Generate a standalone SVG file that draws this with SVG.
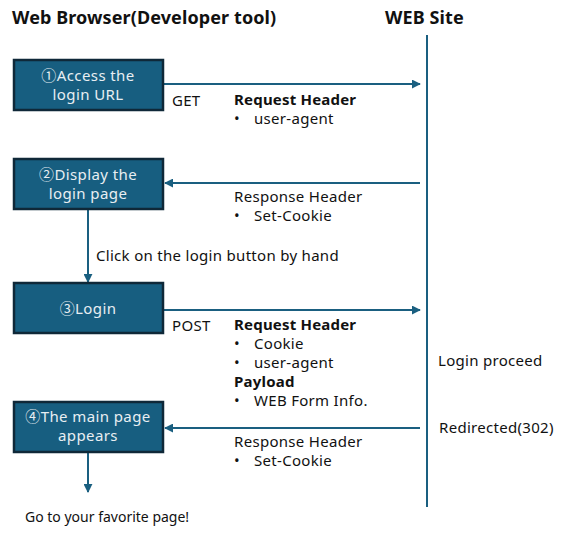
<svg xmlns="http://www.w3.org/2000/svg" width="568" height="534" viewBox="0 0 568 534">
<style>
text{font-family:"Noto Sans","Noto Sans CJK JP",sans-serif;font-size:15px;fill:#111;letter-spacing:0.3px}
.t{font-weight:bold;font-size:18px;letter-spacing:0.1px}
.b{font-weight:bold;letter-spacing:0.2px}
.w{fill:#e8eef2;text-anchor:middle;letter-spacing:0.4px}
.s{font-size:14px;letter-spacing:0}
.box{fill:#175e80;stroke:#0f2838;stroke-width:2.5}
.ln{stroke:#1a5f80;stroke-width:2;fill:none}
</style>
<defs>
<marker id="ah" viewBox="0 0 10 10" refX="9" refY="5" markerWidth="4.5" markerHeight="4.5" orient="auto" markerUnits="strokeWidth">
<path d="M0,0 L10,5 L0,10 z" fill="#1a5f80"/>
</marker>
</defs>
<text class="t" x="12" y="24">Web Browser(Developer tool)</text>
<text class="t" x="385" y="24">WEB Site</text>
<g id="connectors">
<line class="ln" x1="427" y1="35" x2="427" y2="507"/>
<line class="ln" x1="163" y1="84" x2="420" y2="84" marker-end="url(#ah)"/>
<line class="ln" x1="420" y1="183" x2="165" y2="183" marker-end="url(#ah)"/>
<line class="ln" x1="88" y1="209" x2="88" y2="282" marker-end="url(#ah)"/>
<line class="ln" x1="163" y1="310" x2="420" y2="310" marker-end="url(#ah)"/>
<line class="ln" x1="420" y1="428" x2="165" y2="428" marker-end="url(#ah)"/>
<line class="ln" x1="88" y1="452" x2="88" y2="492" marker-end="url(#ah)"/>
</g>
<g id="n1"><rect class="box" x="14" y="60" width="149" height="50"/>
<text class="w" x="88" y="81">①Access the</text><text class="w" x="88" y="100">login URL</text></g>
<g id="n2"><rect class="box" x="14" y="159" width="149" height="50"/>
<text class="w" x="88" y="180">②Display the</text><text class="w" x="88" y="199">login page</text></g>
<g id="n3"><rect class="box" x="14" y="283" width="149" height="50"/>
<text class="w" x="88" y="314">③Login</text></g>
<g id="n4"><rect class="box" x="14" y="402" width="149" height="50"/>
<text class="w" x="88" y="422">④The main page</text><text class="w" x="88" y="441">appears</text></g>
<g id="labels">
<text x="172" y="106">GET</text>
<text class="b" x="234" y="105">Request Header</text>
<text x="234" y="124">•</text><text x="254" y="124">user-agent</text>
<text x="234" y="202">Response Header</text>
<text x="234" y="221">•</text><text x="254" y="221">Set-Cookie</text>
<text x="96" y="261">Click on the login button by hand</text>
<text x="172" y="331">POST</text>
<text class="b" x="234" y="330">Request Header</text>
<text x="234" y="349">•</text><text x="254" y="349">Cookie</text>
<text x="234" y="368">•</text><text x="254" y="368">user-agent</text>
<text class="b" x="234" y="387">Payload</text>
<text x="234" y="406">•</text><text x="254" y="406">WEB Form Info.</text>
<text x="438" y="366">Login proceed</text>
<text x="439" y="433">Redirected(302)</text>
<text x="234" y="447">Response Header</text>
<text x="234" y="466">•</text><text x="254" y="466">Set-Cookie</text>
<text class="s" x="25" y="522">Go to your favorite page!</text>
</g>
</svg>
